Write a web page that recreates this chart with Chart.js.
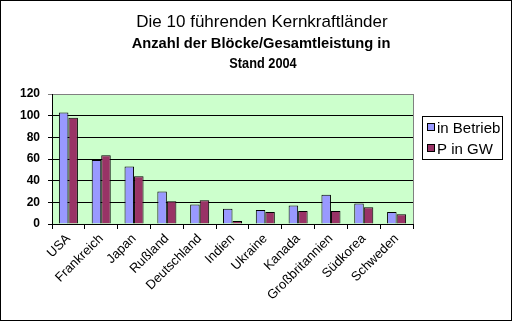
<!DOCTYPE html>
<html>
<head>
<meta charset="utf-8">
<script src="https://cdn.jsdelivr.net/npm/chart.js@4.4.0/dist/chart.umd.min.js"></script>
</head>
<body style="margin:0">
<canvas id="chart" width="513" height="323"></canvas>
<script>
// data
const countries = ['USA','Frankreich','Japan','Rußland','Deutschland','Indien','Ukraine','Kanada','Großbritannien','Südkorea','Schweden'];
const inBetrieb = [103, 59, 53, 30, 18, 14, 13, 17, 27, 19, 11];
const leistungGW = [98, 63.5, 44, 21, 22, 2.8, 11, 12, 12, 15.5, 9];
const yTicks = [0, 20, 40, 60, 80, 100, 120];
const titleLines = ['Die 10 führenden Kernkraftländer', 'Anzahl der Blöcke/Gesamtleistung in', 'Stand 2004'];

const FAM = '"Helvetica Neue", Helvetica, Arial, sans-serif';

// plot background, frame, titles and legend
const decor = {
  id: 'decor',
  beforeDraw(chart) {
    const {ctx, chartArea: a} = chart;
    ctx.save();
    ctx.fillStyle = '#CCFFCC';
    ctx.fillRect(a.left, a.top, a.right - a.left, a.bottom - a.top);
    ctx.restore();
  },
  afterDraw(chart) {
    const {ctx, chartArea: a} = chart;
    ctx.save();
    ctx.strokeStyle = '#808080';
    ctx.lineWidth = 1;
    ctx.beginPath();
    ctx.moveTo(Math.round(a.right) + 0.5, a.top);
    ctx.lineTo(Math.round(a.right) + 0.5, a.bottom);
    ctx.stroke();
    ctx.strokeStyle = '#000';
    ctx.strokeRect(0.5, 0.5, 511, 320);
    ctx.fillStyle = '#000';
    ctx.textAlign = 'center';
    ctx.textBaseline = 'alphabetic';
    ctx.font = '17px ' + FAM;
    ctx.fillText(titleLines[0], 262, 27);
    ctx.font = 'bold 14.7px ' + FAM;
    ctx.fillText(titleLines[1], 261, 48);
    ctx.save();
    ctx.translate(263, 68);
    ctx.scale(0.85, 1);
    ctx.font = 'bold 15px ' + FAM;
    ctx.fillText(titleLines[2], 0, 0);
    ctx.restore();
    // legend
    ctx.textAlign = 'left';
    ctx.fillStyle = '#fff';
    ctx.fillRect(422, 116, 81, 44);
    ctx.strokeRect(422.5, 116.5, 80, 43);
    ctx.font = '15px ' + FAM;
    chart.data.datasets.forEach((ds, i) => {
      const y = 123 + i * 21;
      ctx.fillStyle = ds.backgroundColor;
      ctx.fillRect(427, y, 8, 8);
      ctx.strokeRect(427.5, y + 0.5, 7, 7);
      ctx.fillStyle = '#000';
      ctx.fillText(ds.label, 437, y + 9.5);
    });
    ctx.restore();
  }
};

new Chart(document.getElementById('chart'), {
  type: 'bar',
  data: {
    labels: countries,
    datasets: [
      { label: 'in Betrieb', data: inBetrieb, backgroundColor: '#9999FF', borderColor: '#000', borderWidth: 1 },
      { label: 'P in GW', data: leistungGW, backgroundColor: '#993366', borderColor: '#000', borderWidth: 1 }
    ]
  },
  options: {
    responsive: false,
    animation: false,
    devicePixelRatio: 1,
    datasets: { bar: { categoryPercentage: 0.58, barPercentage: 1 } },
    layout: { padding: { top: 94, right: 100, left: 0, bottom: 0 } },
    plugins: { legend: { display: false }, title: { display: false }, tooltip: { enabled: false } },
    scales: {
      x: {
        afterFit(s) { s.height = 99; },
        grid: { drawOnChartArea: false, color: '#000', tickLength: 5, offset: true },
        border: { color: '#000' },
        ticks: { autoSkip: false, maxRotation: 45, minRotation: 45, padding: 2, color: '#000', font: { size: 13 } }
      },
      y: {
        min: yTicks[0], max: yTicks[yTicks.length - 1],
        afterFit(s) { s.width = 52; },
        afterBuildTicks(s) { s.ticks = yTicks.map(v => ({ value: v })); },
        grid: { color: c => c.tick && c.tick.value === 120 ? '#808080' : '#000', tickLength: 4 },
        border: { color: '#000' },
        ticks: { padding: 8, color: '#000', font: { size: 12, weight: 'bold' } }
      }
    }
  },
  plugins: [decor]
});
</script>
</body>
</html>
